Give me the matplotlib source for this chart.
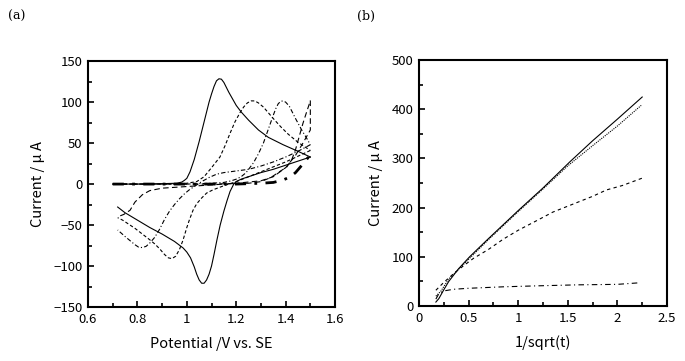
import matplotlib
matplotlib.use("Agg")
import matplotlib.pyplot as plt
from matplotlib.ticker import MultipleLocator

plt.rcParams['font.family'] = ['Noto Sans CJK JP', 'DejaVu Sans']

# (a) cyclic voltammograms: forward and reverse scans
a_fwd_E = [0.70, 0.80, 0.90, 0.96, 0.98, 0.99, 1.00, 1.013, 1.03, 1.05, 1.075, 1.09, 1.10, 1.11, 1.12, 1.13, 1.14, 1.15, 1.16,
           1.17, 1.185, 1.20, 1.22, 1.25, 1.29, 1.33, 1.39, 1.45, 1.50]
a_fwd_I = [0, 0, 0.5, 1, 2.5, 4.5, 7, 15, 30, 52, 82, 100, 110, 119, 126, 128.5, 128, 124, 118,
           112, 104, 96, 88, 78, 66, 57, 48, 40, 33]
a_rev_E = [1.50, 1.45, 1.40, 1.35, 1.30, 1.25, 1.22, 1.20, 1.19, 1.175, 1.163, 1.15, 1.135, 1.122, 1.11, 1.10, 1.09, 1.08, 1.07,
           1.06, 1.05, 1.04, 1.03, 1.015, 1.00, 0.985, 0.95, 0.90, 0.85, 0.80, 0.75, 0.72]
a_rev_I = [33, 28, 23, 18, 14, 9, 6, 3, 0, -9, -20, -33, -50, -68, -86, -100, -110, -117, -121,
           -121, -117, -110, -101, -90, -83, -78, -70, -61, -53, -44, -35, -28]

b_fwd_E = [0.70, 0.90, 1.00, 1.04, 1.07, 1.10, 1.134, 1.155, 1.175, 1.195, 1.215, 1.23, 1.245, 1.26, 1.275, 1.29, 1.31,
           1.33, 1.35, 1.38, 1.41, 1.45, 1.50]
b_fwd_I = [0, 0, 1, 3, 9, 20, 33, 47, 62, 76, 87, 94, 99, 101.5, 101.5, 99, 94,
           87, 80, 70, 61, 51, 41]
b_rev_E = [1.50, 1.45, 1.40, 1.35, 1.30, 1.25, 1.20, 1.15, 1.106, 1.08, 1.06, 1.04, 1.025, 1.01, 1.00, 0.985, 0.97, 0.955,
           0.94, 0.925, 0.91, 0.89, 0.87, 0.85, 0.82, 0.79, 0.76, 0.74, 0.72]
b_rev_I = [41, 34, 27, 21, 15, 9, 3, -2, -7, -11, -17, -24, -32, -44, -53, -68, -80, -88,
           -91, -90, -86, -79, -73, -68, -61, -54, -48, -44, -41]

c_fwd_E = [0.70, 1.00, 1.10, 1.15, 1.18, 1.20, 1.22, 1.24, 1.27, 1.29, 1.31, 1.33, 1.35, 1.36, 1.37, 1.38, 1.39, 1.40,
           1.415, 1.43, 1.44, 1.465, 1.487, 1.50]
c_fwd_I = [0, 0, 1, 2, 4, 6, 9, 14, 26, 37, 50, 67, 84, 92, 98, 101, 101.5, 100,
           95, 86, 80, 66, 55, 48]
c_rev_E = [1.50, 1.45, 1.40, 1.35, 1.30, 1.25, 1.20, 1.15, 1.12, 1.09, 1.06, 1.03, 1.01, 0.99, 0.97, 0.95, 0.93, 0.91,
           0.89, 0.87, 0.85, 0.835, 0.82, 0.805, 0.79, 0.77, 0.75, 0.735, 0.72]
c_rev_I = [48, 40, 33, 27, 22, 18, 16, 14, 12, 8, 3, -3, -7, -12, -18, -25, -33, -43,
           -55, -65, -72, -76, -77.5, -77, -74, -69, -64, -60, -56]

d_fwd_E = [0.70, 1.10, 1.25, 1.30, 1.34, 1.365, 1.405, 1.425, 1.44, 1.455, 1.47, 1.485, 1.495, 1.50]
d_fwd_I = [0, 0, 1, 3, 8, 13, 21, 30, 42, 58, 74, 88, 97, 102]
d_rev_E = [1.50, 1.50, 1.47, 1.44, 1.40, 1.35, 1.30, 1.20, 1.10, 1.00, 0.90, 0.85, 0.82, 0.79, 0.77, 0.745, 0.72]
d_rev_I = [102, 66, 50, 35, 20, 9, 4, 1, -1, -3, -5, -8, -13, -22, -32, -37, -40]

e_E = [0.70, 1.00, 1.20, 1.30, 1.35, 1.39, 1.42, 1.44, 1.46, 1.48, 1.50]
e_I = [0, 0, 0, 1, 2, 5, 9, 14, 21, 28, 36]

# (b) current vs 1/sqrt(t)
b_x_solid = [0.17, 0.20, 0.25, 0.30, 0.40, 0.51, 0.70, 1.00, 1.25, 1.52, 1.75, 2.00, 2.25]
b_y_solid = [8, 15, 33, 50, 76, 100, 137, 194, 240, 293, 336, 380, 425]
b_x_dot = [0.17, 0.22, 0.30, 0.40, 0.51, 0.70, 1.00, 1.25, 1.50, 1.75, 2.00, 2.24]
b_y_dot = [20, 30, 55, 75, 97, 135, 192, 238, 285, 326, 366, 408]
b_x_dash = [0.17, 0.25, 0.35, 0.45, 0.55, 0.70, 0.85, 1.00, 1.20, 1.35, 1.55, 1.75, 1.89, 2.05, 2.25]
b_y_dash = [32, 48, 66, 82, 97, 115, 136, 154, 175, 191, 207, 223, 236, 245, 260]
b_x_dashdot = [0.17, 0.20, 0.26, 0.35, 0.50, 0.85, 1.20, 1.60, 2.00, 2.21]
b_y_dashdot = [14, 25, 31, 34, 36, 39, 41, 43, 44, 47]

fig = plt.figure(figsize=(6.85, 3.61), dpi=100)
ax1 = fig.add_axes([0.1285, 0.1496, 0.3606, 0.681])
ax2 = fig.add_axes([0.6117, 0.1524, 0.362, 0.681])

lw = 0.8
ax1.plot(a_fwd_E, a_fwd_I, 'k-', lw=lw)
ax1.plot(a_rev_E, a_rev_I, 'k-', lw=lw)
ax1.plot(b_fwd_E, b_fwd_I, 'k', ls=(0, (3, 2)), lw=lw)
ax1.plot(b_rev_E, b_rev_I, 'k', ls=(0, (3, 2)), lw=lw)
ax1.plot(c_fwd_E, c_fwd_I, 'k', ls=(0, (4, 2, 1, 2)), lw=lw)
ax1.plot(c_rev_E, c_rev_I, 'k', ls=(0, (4, 2, 1, 2)), lw=lw)
ax1.plot(d_fwd_E, d_fwd_I, 'k', ls=(0, (5, 3)), lw=lw)
ax1.plot(d_rev_E, d_rev_I, 'k', ls=(0, (5, 3)), lw=lw)
ax1.plot(e_E, e_I, 'k', ls=(0, (4, 3, 1, 3)), lw=2)

ax2.plot(b_x_solid, b_y_solid, 'k-', lw=lw)
ax2.plot(b_x_dot, b_y_dot, 'k', ls=(0, (1, 1)), lw=lw)
ax2.plot(b_x_dash, b_y_dash, 'k', ls=(0, (3, 3)), lw=lw)
ax2.plot(b_x_dashdot, b_y_dashdot, 'k', ls=(0, (5, 3, 1, 3)), lw=lw)

ax1.set_xlim(0.6, 1.6)
ax1.set_ylim(-150, 150)
ax1.xaxis.set_minor_locator(MultipleLocator(0.1))
ax1.yaxis.set_major_locator(MultipleLocator(50))
ax1.yaxis.set_minor_locator(MultipleLocator(25))
ax1.set_xticks([0.6, 0.8, 1.0, 1.2, 1.4, 1.6], ['0.6', '0.8', '1', '1.2', '1.4', '1.6'])
ax1.set_xlabel('Potential /V vs. SE', fontsize=10.5, labelpad=8)
ax1.set_ylabel('Current / μ A', fontsize=10.5, labelpad=6)

ax2.set_xlim(0, 2.5)
ax2.set_ylim(0, 500)
ax2.xaxis.set_minor_locator(MultipleLocator(0.25))
ax2.yaxis.set_major_locator(MultipleLocator(100))
ax2.yaxis.set_minor_locator(MultipleLocator(50))
ax2.set_xticks([0, 0.5, 1.0, 1.5, 2.0, 2.5], ['0', '0.5', '1', '1.5', '2', '2.5'])
ax2.set_xlabel('1/sqrt(t)', fontsize=10.5, labelpad=8)
ax2.set_ylabel('Current / μ A', fontsize=10.5, labelpad=6)

for ax in (ax1, ax2):
    for s in ax.spines.values():
        s.set_linewidth(1.5)
    ax.tick_params(which='both', direction='in', top=False, right=False, width=1.2)
    ax.tick_params(which='major', length=4, labelsize=9.5, pad=4)
    ax.tick_params(which='minor', length=3)

fig.text(0.012, 0.955, '(a)', family='DejaVu Serif', fontsize=9, va='center')
fig.text(0.521, 0.955, '(b)', family='DejaVu Serif', fontsize=9, va='center')

fig.savefig('out.png', dpi=100)
